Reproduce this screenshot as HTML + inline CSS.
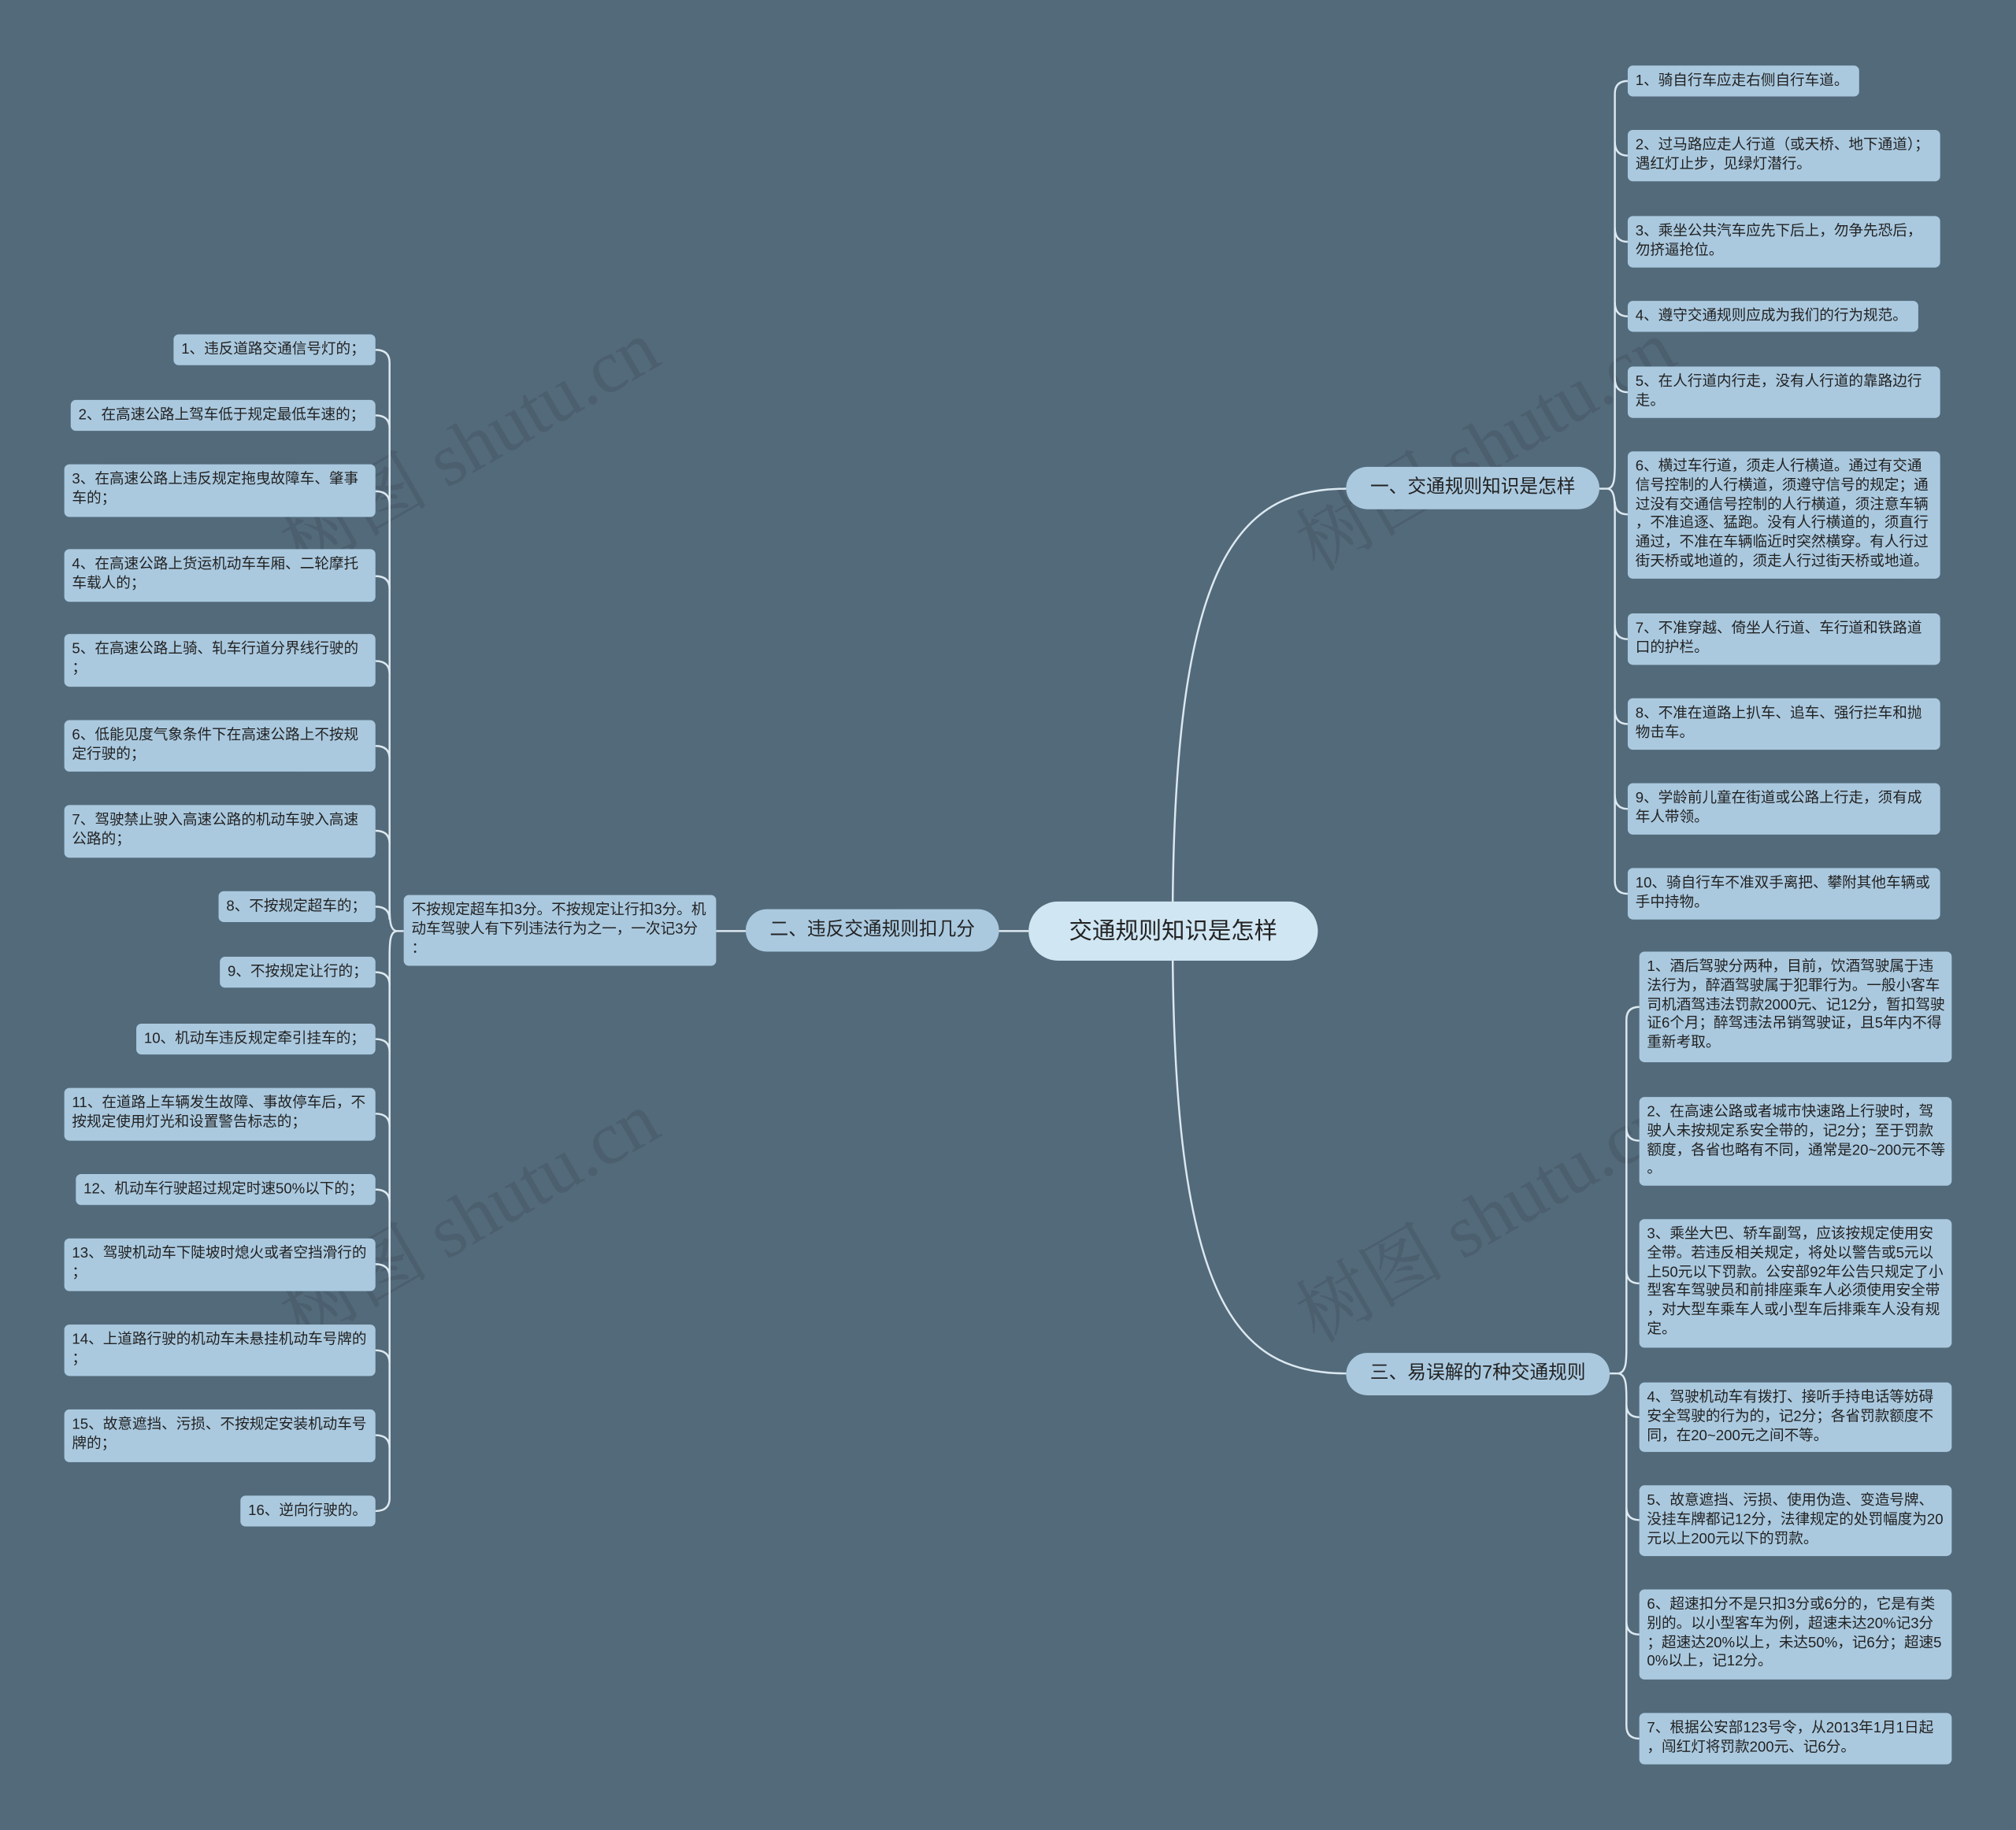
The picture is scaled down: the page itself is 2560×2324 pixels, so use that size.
<!DOCTYPE html>
<html><head><meta charset="utf-8">
<style>
html,body{margin:0;padding:0;background:#536a7a;}
#w{position:absolute;left:0;top:0;width:1568px;height:1423px;transform:scale(1.63265,1.63314);transform-origin:0 0;overflow:hidden;background:#536a7a;font-family:"Liberation Sans","Noto Sans CJK SC",sans-serif;}
.n{position:absolute;box-sizing:border-box;background:#aac9df;color:#222;border-radius:4px;font-size:11.4px;line-height:14.8px;padding:5px 5px 3px 6px;word-break:break-all;line-break:anywhere;}
.b{position:absolute;box-sizing:border-box;background:#aac9df;color:#222;border-radius:17px;font-size:14.5px;text-align:center;line-height:33px;}
.wm{position:absolute;color:rgba(60,75,88,0.35);font-size:58px;font-family:"Liberation Serif","Noto Serif CJK SC",serif;transform:rotate(-30deg);white-space:nowrap;}
svg{position:absolute;left:0;top:0;}
</style></head><body><div id="w">
<div class="wm" style="left:200px;top:300px;">树图 shutu.cn</div>
<div class="wm" style="left:200px;top:900px;">树图 shutu.cn</div>
<div class="wm" style="left:990px;top:300px;">树图 shutu.cn</div>
<div class="wm" style="left:990px;top:900px;">树图 shutu.cn</div>
<svg width="1568" height="1423" fill="none" stroke="#dce9f1" stroke-width="1.5">
<path d="M912,724 C912,440 960,380 1047,380"/>
<path d="M912,724 C912,1010 960,1068 1047,1068"/>
<path d="M800,724 L777,724"/>
<path d="M580,724 L557,724"/>
<g>
<path d="M1244,380 L1250,380"/>
<path d="M1250,380 C1256,380 1256,370 1256,360 L1256,73 Q1256,63 1266,63"/>
<path d="M1256,110 Q1256,121 1266,121"/>
<path d="M1256,177 Q1256,188 1266,188"/>
<path d="M1256,235 Q1256,246 1266,246"/>
<path d="M1256,294 Q1256,305 1266,305"/>
<path d="M1256,390 Q1256,400 1266,400"/>
<path d="M1250,380 C1256,380 1256,390 1256,400 L1256,685 Q1256,695 1266,695"/>
<path d="M1256,486 Q1256,497 1266,497"/>
<path d="M1256,552 Q1256,563 1266,563"/>
<path d="M1256,618 Q1256,629 1266,629"/>
</g>
<g>
<path d="M1252,1068 L1258,1068"/>
<path d="M1258,1068 C1265,1068 1265,1058 1265,1048 L1265,793 Q1265,783 1275,783"/>
<path d="M1258,1068 C1265,1068 1265,1078 1265,1088 L1265,1342 Q1265,1352 1275,1352"/>
<path d="M1265,877 Q1265,887 1275,887"/>
<path d="M1265,988 Q1265,998 1275,998"/>
<path d="M1265,1092 Q1265,1102 1275,1102"/>
<path d="M1265,1172 Q1265,1182 1275,1182"/>
<path d="M1265,1261 Q1265,1271 1275,1271"/>
</g>
<g>
<path d="M314,724 L309,724"/>
<path d="M309,724 C303,724 303,714 303,704 L303,282 Q303,272 292,272"/>
<path d="M309,724 C303,724 303,734 303,744 L303,1165 Q303,1175 292,1175"/>
<path d="M303,333 Q303,323 292,323"/><path d="M303,392 Q303,382 292,382"/>
<path d="M303,458 Q303,448 292,448"/><path d="M303,524 Q303,514 292,514"/>
<path d="M303,590 Q303,580 292,580"/><path d="M303,656 Q303,646 292,646"/>
<path d="M303,715 Q303,705 292,705"/><path d="M303,766 Q303,756 292,756"/>
<path d="M303,818 Q303,808 292,808"/><path d="M303,876 Q303,866 292,866"/>
<path d="M303,935 Q303,925 292,925"/><path d="M303,993 Q303,983 292,983"/>
<path d="M303,1060 Q303,1050 292,1050"/><path d="M303,1126 Q303,1116 292,1116"/>
</g>
</svg>
<div class="b" style="left:800px;top:701px;width:225px;height:46px;line-height:46px;border-radius:23px;background:#d0e6f3;font-size:18px;">交通规则知识是怎样</div>
<div class="b" style="left:1047px;top:363px;width:197px;height:33px;">一、交通规则知识是怎样</div>
<div class="b" style="left:580px;top:707px;width:197px;height:33px;">二、违反交通规则扣几分</div>
<div class="b" style="left:1047px;top:1052px;width:205px;height:33px;">三、易误解的7种交通规则</div>
<div class="n" style="left:314px;top:696px;width:243px;height:55px;">不按规定超车扣3分。不按规定让行扣3分。机动车驾驶人有下列违法行为之一，一次记3分：</div>

<div class="n" style="left:1266px;top:51px;width:180px;height:24px;">1、骑自行车应走右侧自行车道。</div>
<div class="n" style="left:1266px;top:101px;width:243px;height:40px;">2、过马路应走人行道（或天桥、地下通道）；遇红灯止步，见绿灯潜行。</div>
<div class="n" style="left:1266px;top:168px;width:243px;height:40px;">3、乘坐公共汽车应先下后上，勿争先恐后，勿挤逼抢位。</div>
<div class="n" style="left:1266px;top:234px;width:226px;height:24px;">4、遵守交通规则应成为我们的行为规范。</div>
<div class="n" style="left:1266px;top:285px;width:243px;height:40px;">5、在人行道内行走，没有人行道的靠路边行走。</div>
<div class="n" style="left:1266px;top:351px;width:243px;height:99px;">6、横过车行道，须走人行横道。通过有交通信号控制的人行横道，须遵守信号的规定；通过没有交通信号控制的人行横道，须注意车辆，不准追逐、猛跑。没有人行横道的，须直行通过，不准在车辆临近时突然横穿。有人行过街天桥或地道的，须走人行过街天桥或地道。</div>
<div class="n" style="left:1266px;top:477px;width:243px;height:40px;">7、不准穿越、倚坐人行道、车行道和铁路道口的护栏。</div>
<div class="n" style="left:1266px;top:543px;width:243px;height:40px;">8、不准在道路上扒车、追车、强行拦车和抛物击车。</div>
<div class="n" style="left:1266px;top:609px;width:243px;height:40px;">9、学龄前儿童在街道或公路上行走，须有成年人带领。</div>
<div class="n" style="left:1266px;top:675px;width:243px;height:40px;">10、骑自行车不准双手离把、攀附其他车辆或手中持物。</div>

<div class="n" style="left:1275px;top:740px;width:243px;height:86px;">1、酒后驾驶分两种，目前，饮酒驾驶属于违法行为，醉酒驾驶属于犯罪行为。一般小客车司机酒驾违法罚款2000元、记12分，暂扣驾驶证6个月；醉驾违法吊销驾驶证，且5年内不得重新考取。</div>
<div class="n" style="left:1275px;top:853px;width:243px;height:69px;">2、在高速公路或者城市快速路上行驶时，驾驶人未按规定系安全带的，记2分；至于罚款额度，各省也略有不同，通常是20~200元不等。</div>
<div class="n" style="left:1275px;top:948px;width:243px;height:100px;">3、乘坐大巴、轿车副驾，应该按规定使用安全带。若违反相关规定，将处以警告或5元以上50元以下罚款。公安部92年公告只规定了小型客车驾驶员和前排座乘车人必须使用安全带，对大型车乘车人或小型车后排乘车人没有规定。</div>
<div class="n" style="left:1275px;top:1075px;width:243px;height:54px;">4、驾驶机动车有拨打、接听手持电话等妨碍安全驾驶的行为的，记2分；各省罚款额度不同，在20~200元之间不等。</div>
<div class="n" style="left:1275px;top:1155px;width:243px;height:55px;">5、故意遮挡、污损、使用伪造、变造号牌、没挂车牌都记12分，法律规定的处罚幅度为20元以上200元以下的罚款。</div>
<div class="n" style="left:1275px;top:1236px;width:243px;height:70px;">6、超速扣分不是只扣3分或6分的，它是有类别的。以小型客车为例，超速未达20%记3分；超速达20%以上，未达50%，记6分；超速50%以上，记12分。</div>
<div class="n" style="left:1275px;top:1332px;width:243px;height:40px;">7、根据公安部123号令，从2013年1月1日起，闯红灯将罚款200元、记6分。</div>

<div class="n" style="left:135px;top:260px;width:157px;height:24px;">1、违反道路交通信号灯的；</div>
<div class="n" style="left:55px;top:311px;width:237px;height:24px;">2、在高速公路上驾车低于规定最低车速的；</div>
<div class="n" style="left:50px;top:361px;width:242px;height:41px;">3、在高速公路上违反规定拖曳故障车、肇事车的；</div>
<div class="n" style="left:50px;top:427px;width:242px;height:41px;">4、在高速公路上货运机动车车厢、二轮摩托车载人的；</div>
<div class="n" style="left:50px;top:493px;width:242px;height:41px;">5、在高速公路上骑、轧车行道分界线行驶的；</div>
<div class="n" style="left:50px;top:560px;width:242px;height:40px;">6、低能见度气象条件下在高速公路上不按规定行驶的；</div>
<div class="n" style="left:50px;top:626px;width:242px;height:41px;">7、驾驶禁止驶入高速公路的机动车驶入高速公路的；</div>
<div class="n" style="left:170px;top:693px;width:122px;height:24px;">8、不按规定超车的；</div>
<div class="n" style="left:171px;top:744px;width:121px;height:24px;">9、不按规定让行的；</div>
<div class="n" style="left:106px;top:796px;width:186px;height:24px;">10、机动车违反规定牵引挂车的；</div>
<div class="n" style="left:50px;top:846px;width:242px;height:41px;">11、在道路上车辆发生故障、事故停车后，不按规定使用灯光和设置警告标志的；</div>
<div class="n" style="left:59px;top:913px;width:233px;height:24px;">12、机动车行驶超过规定时速50%以下的；</div>
<div class="n" style="left:50px;top:963px;width:242px;height:41px;">13、驾驶机动车下陡坡时熄火或者空挡滑行的；</div>
<div class="n" style="left:50px;top:1030px;width:242px;height:40px;">14、上道路行驶的机动车未悬挂机动车号牌的；</div>
<div class="n" style="left:50px;top:1096px;width:242px;height:41px;">15、故意遮挡、污损、不按规定安装机动车号牌的；</div>
<div class="n" style="left:187px;top:1163px;width:105px;height:24px;">16、逆向行驶的。</div>
</div></body></html>
